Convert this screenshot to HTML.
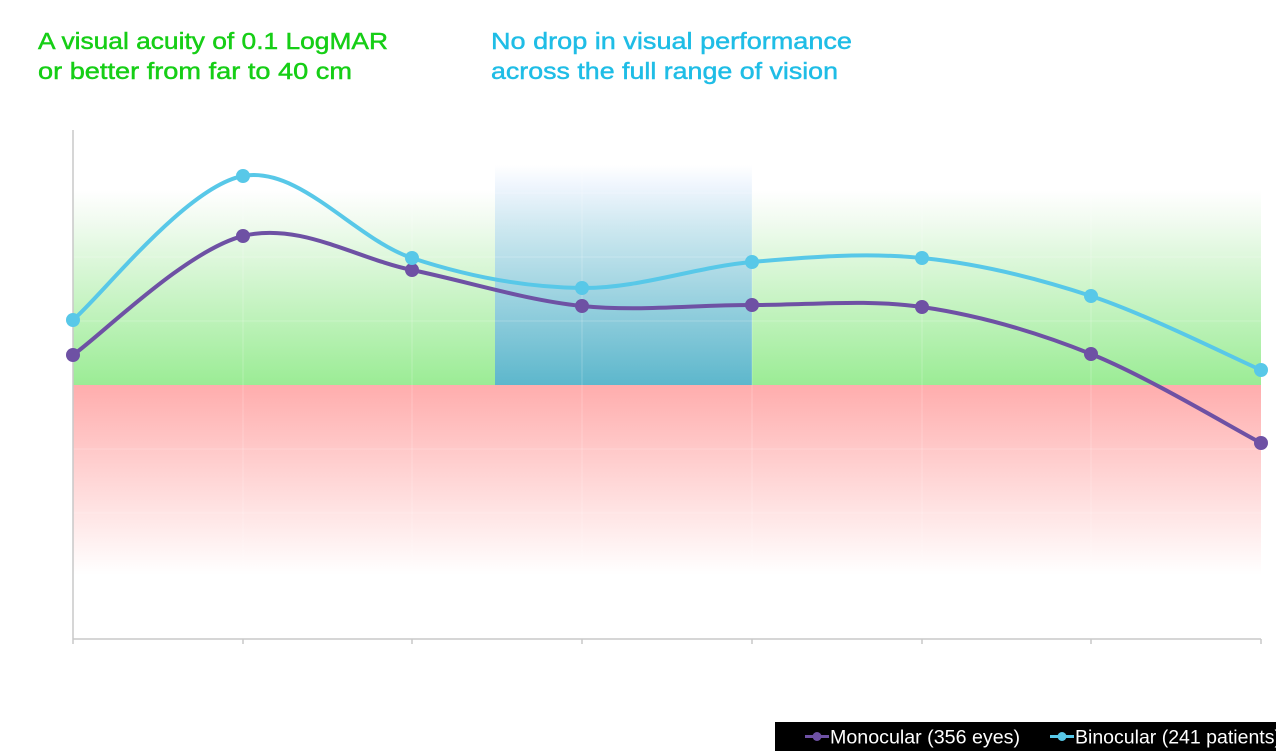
<!DOCTYPE html>
<html>
<head>
<meta charset="utf-8">
<style>
  html,body{margin:0;padding:0;background:#fff;}
  svg{display:block;}
</style>
</head>
<body>
<svg width="1276" height="753" viewBox="0 0 1276 753" xmlns="http://www.w3.org/2000/svg">
  <defs>
    <linearGradient id="gGreen" x1="0" y1="0" x2="0" y2="1">
      <stop offset="0" stop-color="#ffffff" stop-opacity="1"/>
      <stop offset="0.15" stop-color="#f2fbf1"/>
      <stop offset="1" stop-color="#9bec95"/>
    </linearGradient>
    <linearGradient id="gRed" x1="0" y1="0" x2="0" y2="1">
      <stop offset="0" stop-color="#ffadad"/>
      <stop offset="0.5" stop-color="#ffd6d6"/>
      <stop offset="1" stop-color="#ffffff"/>
    </linearGradient>
    <linearGradient id="gBlue" x1="0" y1="0" x2="0" y2="1">
      <stop offset="0" stop-color="#ffffff"/>
      <stop offset="0.1" stop-color="#eef5fd"/>
      <stop offset="0.3" stop-color="#cbe7ef"/>
      <stop offset="1" stop-color="#5db7cc"/>
    </linearGradient>
  </defs>

  <!-- Title texts -->
  <g font-family="Liberation Sans, Arial, sans-serif" font-size="23" stroke-width="0.45">
    <text x="38" y="49" fill="#16ce16" stroke="#16ce16" textLength="350" lengthAdjust="spacingAndGlyphs">A visual acuity of 0.1 LogMAR</text>
    <text x="38" y="79" fill="#16ce16" stroke="#16ce16" textLength="314" lengthAdjust="spacingAndGlyphs">or better from far to 40 cm</text>
    <text x="491" y="49" fill="#1fbde6" stroke="#1fbde6" textLength="361" lengthAdjust="spacingAndGlyphs">No drop in visual performance</text>
    <text x="491" y="79" fill="#1fbde6" stroke="#1fbde6" textLength="347" lengthAdjust="spacingAndGlyphs">across the full range of vision</text>
  </g>

  <!-- Background zones -->
  <rect x="73" y="190" width="1188" height="195" fill="url(#gGreen)"/>
  <rect x="73" y="385" width="1188" height="190" fill="url(#gRed)"/>
  <rect x="495" y="165" width="257" height="220" fill="url(#gBlue)"/>

  <!-- faint gridlines -->
  <g stroke="#ffffff" stroke-opacity="0.22" stroke-width="1">
    <line x1="243" y1="130" x2="243" y2="639"/>
    <line x1="412" y1="130" x2="412" y2="639"/>
    <line x1="582" y1="130" x2="582" y2="639"/>
    <line x1="752" y1="130" x2="752" y2="639"/>
    <line x1="922" y1="130" x2="922" y2="639"/>
    <line x1="1091" y1="130" x2="1091" y2="639"/>
    <line x1="73" y1="193" x2="1261" y2="193"/>
    <line x1="73" y1="257" x2="1261" y2="257"/>
    <line x1="73" y1="321" x2="1261" y2="321"/>
    <line x1="73" y1="449" x2="1261" y2="449"/>
    <line x1="73" y1="513" x2="1261" y2="513"/>
  </g>

  <!-- Axes -->
  <g stroke="#c8c8c8" stroke-width="1.5" fill="none">
    <line x1="73" y1="130" x2="73" y2="639"/>
    <line x1="73" y1="639" x2="1261" y2="639"/>
    <line x1="73" y1="639" x2="73" y2="644"/>
    <line x1="243" y1="639" x2="243" y2="644"/>
    <line x1="412" y1="639" x2="412" y2="644"/>
    <line x1="582" y1="639" x2="582" y2="644"/>
    <line x1="752" y1="639" x2="752" y2="644"/>
    <line x1="922" y1="639" x2="922" y2="644"/>
    <line x1="1091" y1="639" x2="1091" y2="644"/>
    <line x1="1261" y1="639" x2="1261" y2="644"/>
  </g>

  <!-- Monocular series -->
  <path d="M73,355 C101.3,335.2 186.5,250.2 243,236 C299.5,221.8 355.5,258.3 412,270 C468.5,281.7 525.3,300.2 582,306 C638.7,311.8 695.3,304.8 752,305 C808.7,305.2 865.5,298.8 922,307 C978.5,315.2 1034.5,331.3 1091,354 C1147.5,376.7 1232.7,428.2 1261,443"
        fill="none" stroke="#6e51a4" stroke-width="4" stroke-linecap="round"/>
  <g fill="#6e51a4">
    <circle cx="73" cy="355" r="7"/>
    <circle cx="243" cy="236" r="7"/>
    <circle cx="412" cy="270" r="7"/>
    <circle cx="582" cy="306" r="7"/>
    <circle cx="752" cy="305" r="7"/>
    <circle cx="922" cy="307" r="7"/>
    <circle cx="1091" cy="354" r="7"/>
    <circle cx="1261" cy="443" r="7"/>
  </g>

  <!-- Binocular series -->
  <path d="M73,320 C101.3,296 186.5,186.3 243,176 C299.5,165.7 355.5,239.3 412,258 C468.5,276.7 525.3,287.3 582,288 C638.7,288.7 695.3,267 752,262 C808.7,257 865.5,252.3 922,258 C978.5,263.7 1034.5,277.3 1091,296 C1147.5,314.7 1232.7,357.7 1261,370"
        fill="none" stroke="#58c8e8" stroke-width="4" stroke-linecap="round"/>
  <g fill="#58c8e8">
    <circle cx="73" cy="320" r="7"/>
    <circle cx="243" cy="176" r="7"/>
    <circle cx="412" cy="258" r="7"/>
    <circle cx="582" cy="288" r="7"/>
    <circle cx="752" cy="262" r="7"/>
    <circle cx="922" cy="258" r="7"/>
    <circle cx="1091" cy="296" r="7"/>
    <circle cx="1261" cy="370" r="7"/>
  </g>

  <!-- Legend -->
  <rect x="775" y="722" width="501" height="29" fill="#000"/>
  <line x1="805" y1="736.5" x2="829" y2="736.5" stroke="#6e51a4" stroke-width="3"/>
  <circle cx="817" cy="736.5" r="4.5" fill="#6e51a4"/>
  <line x1="1050" y1="736.5" x2="1074" y2="736.5" stroke="#58c8e8" stroke-width="3"/>
  <circle cx="1062" cy="736.5" r="4.5" fill="#58c8e8"/>
  <g font-family="Liberation Sans, Arial, sans-serif" font-size="19.5" fill="#fff">
    <text x="830" y="743.5" textLength="190" lengthAdjust="spacingAndGlyphs">Monocular (356 eyes)</text>
    <text x="1075" y="743.5">Binocular (241 patients)</text>
  </g>
</svg>
</body>
</html>
